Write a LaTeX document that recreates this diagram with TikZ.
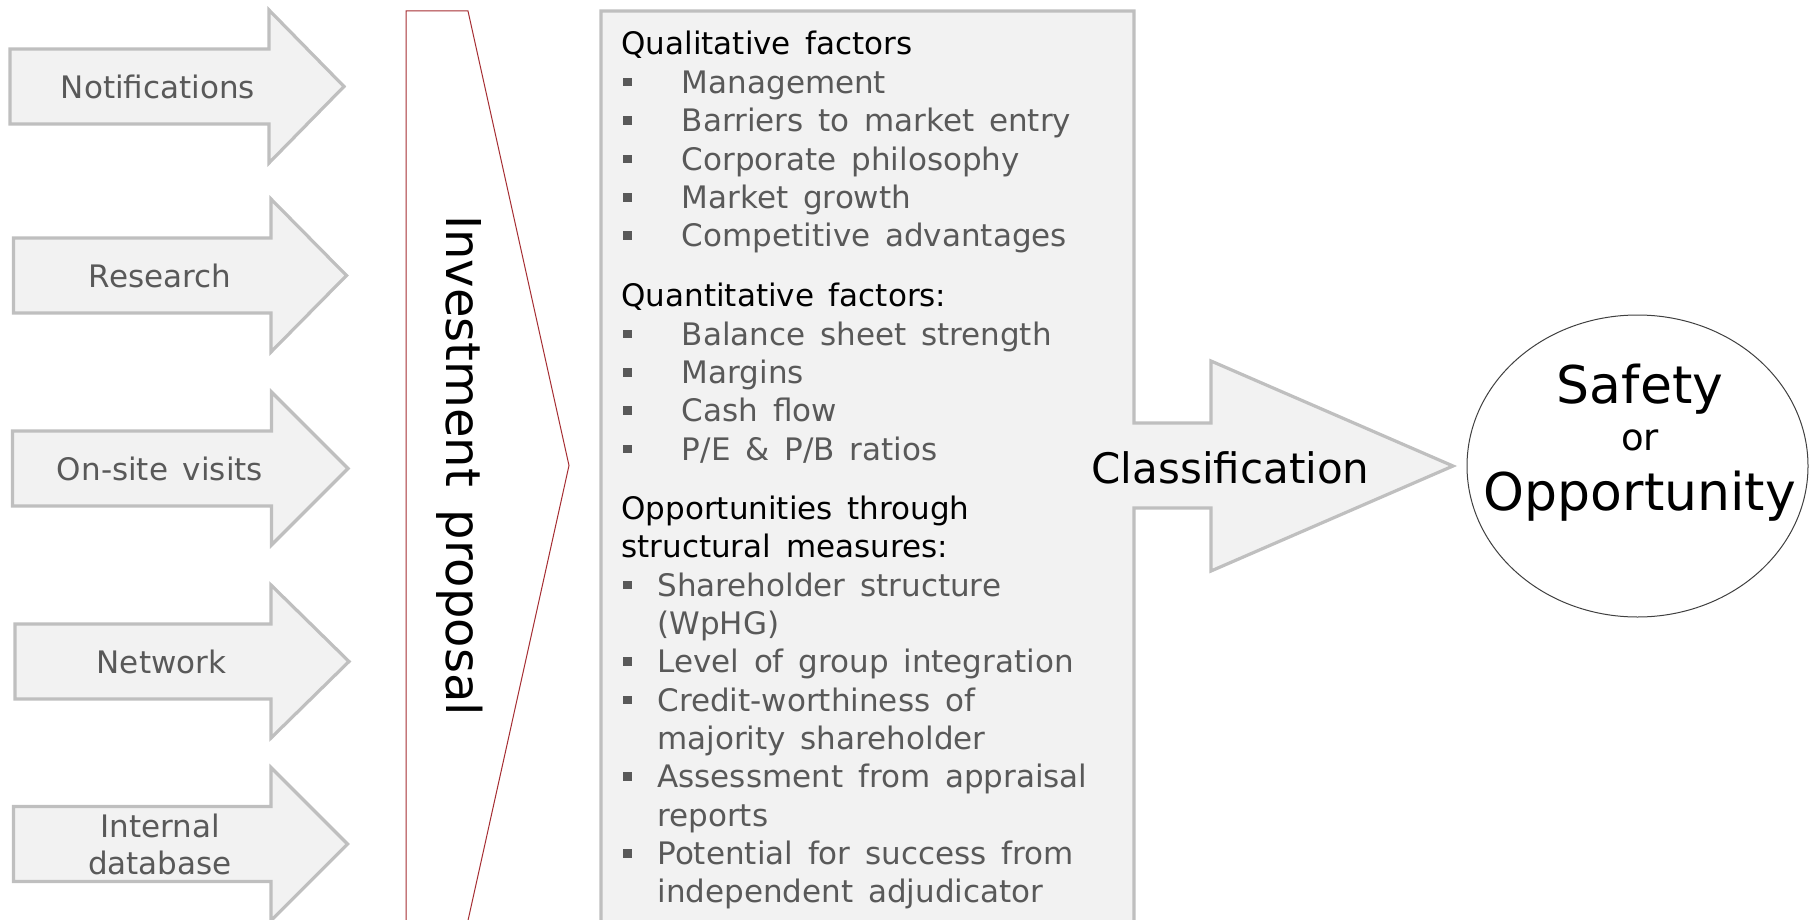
\documentclass[tikz,border=0pt]{standalone}
\usepackage{fontspec}
\setmainfont[WordSpace=1.5]{DejaVu Sans}
\usepackage{xcolor}
\usepackage{tikz}
\pgfdeclarelayer{nodelayer}
\pgfdeclarelayer{edgelayer}
\pgfsetlayers{edgelayer,nodelayer,main}
\definecolor{sourcefill}{HTML}{F2F2F2}
\definecolor{sourceline}{HTML}{BFBFBF}
\definecolor{itemgrey}{HTML}{595959}
\definecolor{proposalred}{RGB}{165,45,50}
\definecolor{outcomeline}{HTML}{404040}
\tikzset{
    none/.style = {inner sep=0pt},
    source/.style = {fill=sourcefill, draw=sourceline, line width=1.6pt},
    panel/.style = {fill=sourcefill, draw=sourceline, line width=1.6pt},
    proposal/.style = {fill=white, draw=proposalred, line width=0.5pt},
    outcome/.style = {fill=white, draw=outcomeline, line width=0.5pt},
    sourcetext/.style = {inner sep=0pt, align=center, text=itemgrey, font=\fontsize{15.5}{18.5}\selectfont},
    header/.style = {inner sep=0pt, anchor=base west, font=\fontsize{15.5}{18.5}\selectfont},
    item/.style = {header, text=itemgrey},
    bullet/.style = {inner sep=0pt, minimum size=4.2pt, fill=itemgrey},
    big/.style = {inner sep=0pt, anchor=base, font=\fontsize{26}{31}\selectfont}
}

\begin{document}
\begin{tikzpicture}[x=0.5pt, y=-0.5pt]
  \useasboundingbox (0, 0) rectangle (1809, 920);
  \begin{pgfonlayer}{nodelayer}
    % inputs
    \node [style=sourcetext] (notif) at (158, 86.5) {Notifications};
    \node [style=sourcetext] (research) at (160, 275.5) {Research};
    \node [style=sourcetext] (visits) at (160, 468.5) {On-site visits};
    \node [style=sourcetext] (network) at (161.5, 661.5) {Network};
    \node [style=sourcetext] (database) at (160, 844) {Internal\\database};
    \node [style=none, rotate=-90, anchor=base, font=\fontsize{24}{29}\selectfont] (proposal) at (446, 465.5) {Investment proposal};

    % qualitative
    \node [style=header] (hqual) at (621, 55) {Qualitative factors};
    \node [style=bullet] (dot1) at (627.5, 82.3) {};
    \node [style=item] (mgmt) at (681.5, 93.3) {Management};
    \node [style=bullet] (dot2) at (627.5, 120.6) {};
    \node [style=item] (barriers) at (681.5, 131.6) {Barriers to market entry};
    \node [style=bullet] (dot3) at (627.5, 159) {};
    \node [style=item] (philo) at (681.5, 170) {Corporate philosophy};
    \node [style=bullet] (dot4) at (627.5, 197.3) {};
    \node [style=item] (growth) at (681.5, 208.3) {Market growth};
    \node [style=bullet] (dot5) at (627.5, 235.6) {};
    \node [style=item] (advant) at (681.5, 246.6) {Competitive advantages};

    % quantitative
    \node [style=header] (hquant) at (621, 306.7) {Quantitative factors:};
    \node [style=bullet] (dot6) at (627.5, 334) {};
    \node [style=item] (balance) at (681.5, 345) {Balance sheet strength};
    \node [style=bullet] (dot7) at (627.5, 372.3) {};
    \node [style=item] (margins) at (681.5, 383.3) {Margins};
    \node [style=bullet] (dot8) at (627.5, 410.6) {};
    \node [style=item] (cash) at (681.5, 421.6) {Cash flow};
    \node [style=bullet] (dot9) at (627.5, 449) {};
    \node [style=item] (ratios) at (681.5, 460) {P/E \& P/B ratios};

    % structural measures
    \node [style=header] (hopp) at (621, 519.3) {Opportunities through};
    \node [style=header] (hopp2) at (621, 557.6) {structural measures:};
    \node [style=bullet] (dot10) at (627.5, 585) {};
    \node [style=item] (holders) at (657, 596) {Shareholder structure};
    \node [style=item] (holders2) at (657, 634.3) {(WpHG)};
    \node [style=bullet] (dot11) at (627.5, 661.6) {};
    \node [style=item] (integr) at (657, 672.6) {Level of group integration};
    \node [style=bullet] (dot12) at (627.5, 700) {};
    \node [style=item] (credit) at (657, 711) {Credit-worthiness of};
    \node [style=item] (credit2) at (657, 749.3) {majority shareholder};
    \node [style=bullet] (dot13) at (627.5, 776.6) {};
    \node [style=item] (apprais) at (657, 787.6) {Assessment from appraisal};
    \node [style=item] (apprais2) at (657, 826) {reports};
    \node [style=bullet] (dot14) at (627.5, 853.3) {};
    \node [style=item] (success) at (657, 864.3) {Potential for success from};
    \node [style=item] (success2) at (657, 902.6) {independent adjudicator};

    % result
    \node [style=none, anchor=base, font=\fontsize{21}{25}\selectfont] (classify) at (1230.5, 483.5) {Classification};
    \node [style=big] (safety) at (1640, 403) {Safety};
    \node [style=none, anchor=base, font=\fontsize{18.5}{22}\selectfont] (or) at (1640, 450) {or};
    \node [style=big] (chance) at (1640, 510) {Opportunity};
  \end{pgfonlayer}
  \begin{pgfonlayer}{edgelayer}
    \draw [style=source] (10, 49) -- (269, 49) -- (269, 10) -- (344, 86.5) -- (269, 163) -- (269, 124) -- (10, 124) -- cycle;
    \draw [style=source] (13.5, 238) -- (271, 238) -- (271, 199) -- (346.5, 275.5) -- (271, 352) -- (271, 313) -- (13.5, 313) -- cycle;
    \draw [style=source] (12.5, 431) -- (271.5, 431) -- (271.5, 392) -- (348, 468.5) -- (271.5, 545) -- (271.5, 506) -- (12.5, 506) -- cycle;
    \draw [style=source] (15, 624) -- (271, 624) -- (271, 585) -- (349, 661.5) -- (271, 738) -- (271, 699) -- (15, 699) -- cycle;
    \draw [style=source] (13.5, 806.5) -- (271, 806.5) -- (271, 767.5) -- (347.5, 844) -- (271, 920.5) -- (271, 881.5) -- (13.5, 881.5) -- cycle;
    \draw [style=proposal] (406, 925) -- (406, 11) -- (468, 11) -- (569, 465.5) -- (467, 925) -- cycle;
    \draw [style=panel] (601, 930) -- (601, 11) -- (1134, 11) -- (1134, 423) -- (1211, 423) -- (1211, 361) -- (1453, 466) -- (1211, 571) -- (1211, 508) -- (1134, 508) -- (1134, 930) -- cycle;
    \draw [style=outcome] (1637.5, 466) ellipse [x radius=85.25pt, y radius=75.5pt];
  \end{pgfonlayer}
\end{tikzpicture}
\end{document}
